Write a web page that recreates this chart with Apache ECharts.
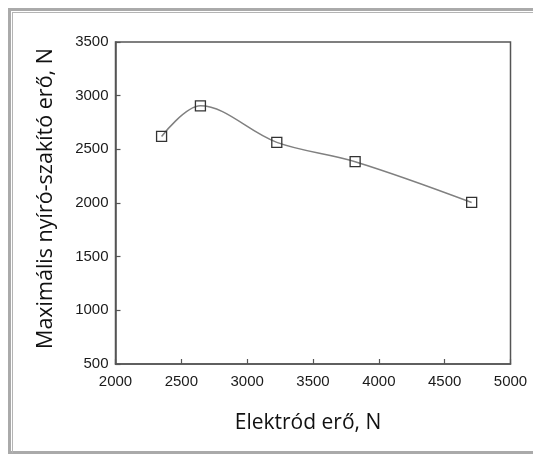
<!DOCTYPE html>
<html>
<head>
<meta charset="utf-8">
<script src="https://cdn.jsdelivr.net/npm/echarts@6/dist/echarts.min.js"></script>
<style>
  html, body { margin: 0; padding: 0; background: #fff; overflow: hidden; }
  #main { position: absolute; left: 0; top: 0; width: 533px; height: 454px; }
  .frame-out { position: absolute; left: 8px; top: 8px; width: 600px; height: 440px;
               border: 3px solid #aaa; border-right: none; pointer-events: none; }
  .frame-in { position: absolute; left: 12px; top: 12px; width: 600px; height: 440px;
              border-left: 1.5px solid #b4b4b4; border-top: 1.5px solid #b4b4b4; pointer-events: none; }
</style>
</head>
<body>
<div id="main"></div>
<div class="frame-out"></div>
<div class="frame-in"></div>
<script>
// electrode force (N) vs. max shear-tension force (N)
const force = [2350, 2645, 3225, 3820, 4705];
const shear = [2620, 2905, 2565, 2385, 2005];

const xTitle = "Elektród erő, N";
const yTitle = "Maximális nyíró-szakító erő, N";

const axisColor = "#555";
const labelFont = { fontFamily: "Liberation Sans", fontSize: 15, color: "#1a1a1a" };
const plain = v => String(v);

var chart = echarts.init(document.getElementById("main"));

var option = {
  animation: false,
  backgroundColor: "#fff",
  grid: {
    left: 115.5,
    right: 22.5,
    top: 42,
    bottom: 90,
    show: true,
    borderColor: axisColor,
    borderWidth: 1.5,
    backgroundColor: "transparent"
  },
  xAxis: {
    type: "value",
    min: 2000,
    max: 5000,
    interval: 500,
    splitLine: { show: false },
    axisLine: { lineStyle: { color: axisColor, width: 1.5 } },
    axisTick: { inside: true, length: 5, lineStyle: { color: axisColor, width: 1.2 } },
    axisLabel: Object.assign({ margin: 10, formatter: plain }, labelFont)
  },
  yAxis: {
    type: "value",
    min: 500,
    max: 3500,
    interval: 500,
    splitLine: { show: false },
    axisLine: { show: true, lineStyle: { color: axisColor, width: 1.5 } },
    axisTick: { show: true, inside: true, length: 5, lineStyle: { color: axisColor, width: 1.2 } },
    axisLabel: Object.assign({ margin: 7, formatter: plain }, labelFont)
  },
  series: [
    {
      type: "line",
      data: force.map((f, i) => [f, shear[i]]),
      smooth: 0.35,
      symbol: "rect",
      symbolSize: 10,
      lineStyle: { color: "#808080", width: 1.5 },
      itemStyle: { color: "rgba(0,0,0,0)", borderColor: "#333", borderWidth: 1.3 }
    }
  ],
  graphic: [
    { type: "text", x: 308, y: 423,
      style: { text: xTitle, fontFamily: "Open Sans", fontSize: 21, fill: "#111",
               textAlign: "center", textVerticalAlign: "middle" } },
    { type: "text", x: 46, y: 198.5, rotation: Math.PI / 2,
      style: { text: yTitle, fontFamily: "Open Sans", fontSize: 21.5, fill: "#111",
               textAlign: "center", textVerticalAlign: "middle" } }
  ]
};

chart.setOption(option);
</script>
</body>
</html>
